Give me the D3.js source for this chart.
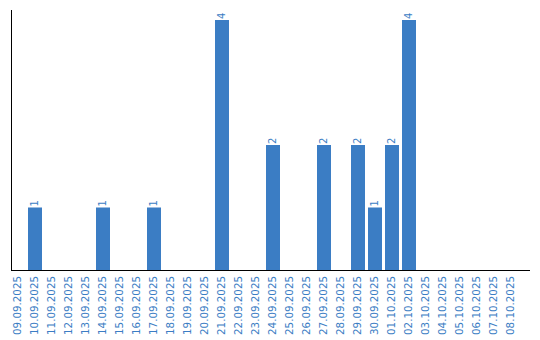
<!DOCTYPE html>
<html lang="en">
<head>
<meta charset="UTF-8">
<title>Daily count</title>
<script src="https://d3js.org/d3.v7.min.js"></script>
<style>
  body { margin: 0; background: #fff; }
  text { font-family: "DejaVu Sans", Verdana, sans-serif; }
</style>
</head>
<body>
<div id="chart"></div>
<script>
// data
const days = ["09.09.2025","10.09.2025","11.09.2025","12.09.2025","13.09.2025","14.09.2025",
  "15.09.2025","16.09.2025","17.09.2025","18.09.2025","19.09.2025","20.09.2025","21.09.2025",
  "22.09.2025","23.09.2025","24.09.2025","25.09.2025","26.09.2025","27.09.2025","28.09.2025",
  "29.09.2025","30.09.2025","01.10.2025","02.10.2025","03.10.2025","04.10.2025","05.10.2025",
  "06.10.2025","07.10.2025","08.10.2025"];
const counts = [0,1,0,0,0,1,0,0,1,0,0,0,4,0,0,2,0,0,2,0,2,1,2,4,0,0,0,0,0,0];

const W = 540, H = 340;
const color = "#3b7dc4";

const svg = d3.select("#chart").append("svg").attr("width", W).attr("height", H);

const x = d3.scaleBand().domain(days).range([11, 521]);
const y = d3.scaleLinear().domain([0, 4]).range([270, 20]);
const barW = x.bandwidth() - 3;

const rows = days.map((d, i) => ({ day: d, v: counts[i] })).filter(d => d.v > 0);

// bars
svg.append("g")
  .selectAll("rect")
  .data(rows)
  .enter()
  .append("rect")
  .attr("x", d => x(d.day))
  .attr("y", d => y(d.v))
  .attr("width", barW)
  .attr("height", d => y(0) - y(d.v))
  .attr("fill", color);

// value labels
svg.append("g")
  .selectAll("text")
  .data(rows)
  .enter()
  .append("text")
  .attr("transform", d => `translate(${x(d.day) + barW / 2},${y(d.v) - 1}) rotate(-90)`)
  .attr("dominant-baseline", "middle")
  .attr("font-size", 10)
  .attr("fill", color)
  .text(d => d.v);

// axis lines
svg.append("line").attr("x1", 11.5).attr("x2", 11.5).attr("y1", 10).attr("y2", 270)
  .attr("stroke", "#000").attr("stroke-width", 1);
svg.append("line").attr("x1", 11).attr("x2", 530).attr("y1", 270.5).attr("y2", 270.5)
  .attr("stroke", "#000").attr("stroke-width", 1);

// x labels
svg.append("g")
  .selectAll("text")
  .data(days)
  .enter()
  .append("text")
  .attr("transform", d => `translate(${x(d) + barW / 2 - 0.5},276) rotate(-90)`)
  .attr("text-anchor", "end")
  .attr("dominant-baseline", "middle")
  .attr("font-size", 10.3)
  .attr("fill", color)
  .text(d => d);
</script>
</body>
</html>
